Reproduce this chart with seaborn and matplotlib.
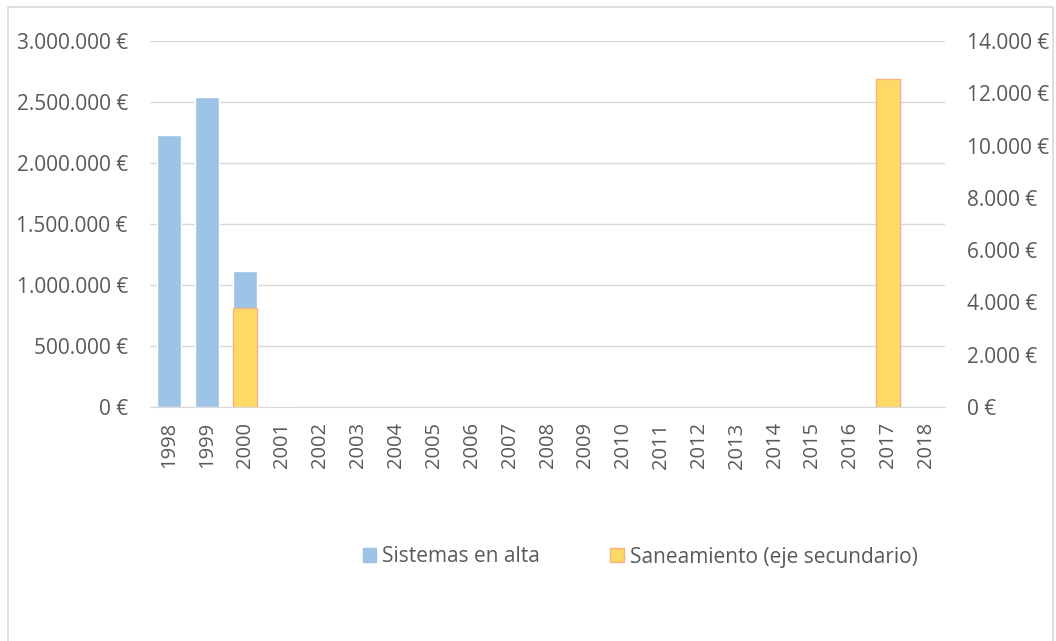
import pandas as pd
import seaborn as sns
import matplotlib.pyplot as plt
from matplotlib.patches import Patch, Rectangle
from matplotlib.ticker import FuncFormatter, MultipleLocator, FixedLocator

years = [str(y) for y in range(1998, 2019)]
sistemas_alta = [2230000, 2541000, 1115000, 5000, 0, 0, 0, 0, 0, 0, 0,
                 0, 0, 0, 0, 0, 0, 0, 0, 0, 0]
saneamiento = [0, 0, 3800, 0, 0, 0, 0, 0, 0, 0, 0,
               0, 0, 0, 0, 0, 0, 0, 0, 12550, 0]

df = pd.DataFrame({"year": years, "alta": sistemas_alta, "san": saneamiento})

sns.set_style("white")
plt.rcParams['font.family'] = ['Open Sans', 'DejaVu Sans']
txt = "#595959"
grid = "#D9D9D9"
blue = "#9DC3E6"
yellow = "#FFD966"
edge = "#F4B183"

fig = plt.figure(figsize=(10.56, 6.41), dpi=100)
# chart border (Excel style)
fig.patches.append(Rectangle((8 / 1056, -0.05), 1045 / 1056, 1.05 - 7 / 641,
                             transform=fig.transFigure, fill=False, edgecolor=grid, lw=1.2))
ax = fig.add_axes([150 / 1056, 234 / 641, 795 / 1056, 366 / 641])

sns.barplot(data=df, x="year", y="alta", color=blue, width=0.64, ax=ax, saturation=1)
ax.set_ylim(0, 3000000)
ax.yaxis.set_major_locator(MultipleLocator(500000))


def euro(v, pos):
    return f"{int(round(v)):,} €".replace(",", ".")


ax.yaxis.set_major_formatter(FuncFormatter(euro))
ax.grid(axis="y", color=grid, lw=1)
ax.set_axisbelow(True)
for s in ["top", "right", "left"]:
    ax.spines[s].set_visible(False)
ax.spines["bottom"].set_color(grid)
ax.set_xlabel("")
ax.set_ylabel("")
ax.set_xlim(-0.5, len(years) - 0.5)
ax.tick_params(axis="x", which="major", length=0, labelrotation=90, labelsize=14.5, colors=txt, pad=11)
ax.xaxis.set_minor_locator(FixedLocator([i - 0.5 for i in range(len(years) + 1)]))
ax.tick_params(axis="x", which="minor", length=6, color=grid, width=1)
ax.tick_params(axis="y", length=0, labelsize=15, colors=txt, pad=16)

ax2 = ax.twinx()
sns.barplot(data=df, x="year", y="san", color=yellow, width=0.64, ax=ax2, saturation=1,
            edgecolor=edge, linewidth=1)
for p in ax2.patches:
    if p.get_height() == 0:
        p.set_visible(False)
ax2.set_ylim(0, 14000)
ax2.yaxis.set_major_locator(MultipleLocator(2000))
ax2.yaxis.set_major_formatter(FuncFormatter(euro))
for s in ax2.spines.values():
    s.set_visible(False)
ax2.set_ylabel("")
ax2.tick_params(axis="y", length=0, labelsize=15, colors=txt, pad=16)
ax2.set_xlim(-0.5, len(years) - 0.5)

handles = [Patch(facecolor=blue, edgecolor=blue),
           Patch(facecolor=yellow, edgecolor=edge)]
fig.legend(handles, ["Sistemas en alta", "Saneamiento (eje secundario)"],
           loc="center", bbox_to_anchor=(640 / 1056, 1 - 557 / 641), ncol=2, frameon=False,
           fontsize=15, labelcolor=txt, handlelength=0.67, handleheight=0.67,
           handletextpad=0.25, columnspacing=3.4)

fig.savefig("out.png", dpi=100)
